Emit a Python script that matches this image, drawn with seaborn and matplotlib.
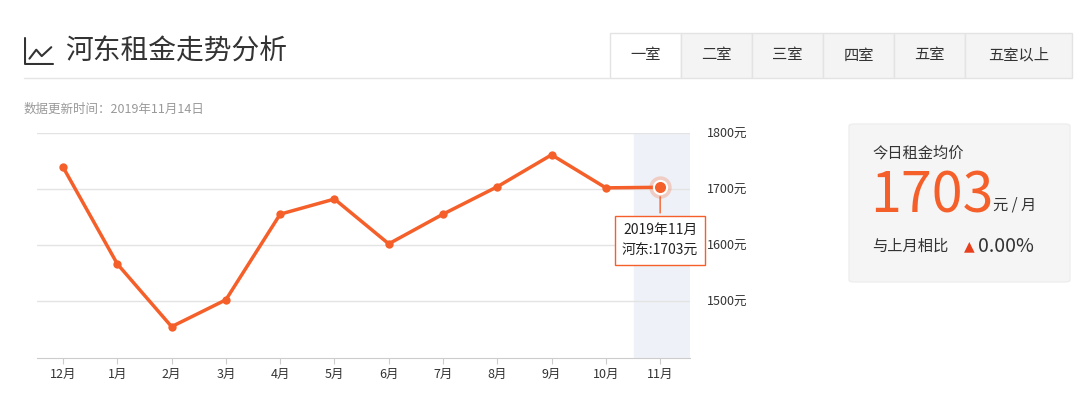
import numpy as np
import pandas as pd
import matplotlib.pyplot as plt
import seaborn as sns
from matplotlib.patches import Rectangle, FancyBboxPatch

months = ['12月', '1月', '2月', '3月', '4月', '5月', '6月', '7月', '8月', '9月', '10月', '11月']
rent = [1739, 1566, 1454, 1502, 1655, 1682, 1602, 1655, 1704, 1761, 1702, 1703]
y_ticks = [1500, 1600, 1700, 1800]
tabs = ['一室', '二室', '三室', '四室', '五室', '五室以上']

sns.set_style('white')
plt.rcParams['font.family'] = ['Noto Sans CJK SC', 'DejaVu Sans']

ORANGE = '#f5602a'
df = pd.DataFrame({'idx': range(len(months)), 'rent': rent})

fig = plt.figure(figsize=(10.8, 4), dpi=100)
ax = fig.add_axes([37 / 1080, 42 / 400, 653 / 1080, 225 / 400])

ax.axvspan(10.52, 11.6, color='#eef2f8', zorder=0)
sns.lineplot(data=df, x='idx', y='rent', ax=ax, color=ORANGE, linewidth=2.5,
             marker='o', markersize=6, markeredgewidth=0, zorder=3)
last = df.iloc[-1]
ax.scatter([last.idx], [last.rent], s=260, color=ORANGE, alpha=0.25, zorder=4, linewidths=0)
ax.scatter([last.idx], [last.rent], s=90, color=ORANGE, zorder=5, edgecolors='white', linewidths=1.5)

ax.set_xlim(-0.48, 11.55)
ax.set_ylim(1398, 1800)
ax.set_xticks(range(len(months)))
ax.set_xticklabels(months, fontsize=9, color='#333333')
ax.yaxis.tick_right()
ax.set_yticks(y_ticks)
ax.set_yticklabels([f'{v}元' for v in y_ticks], fontsize=9, color='#333333')
ax.tick_params(axis='y', length=0, pad=12)
ax.tick_params(axis='x', length=4, color='#cccccc', bottom=True)
ax.grid(axis='y', color='#e3e3e3', linewidth=1)
ax.set_xlabel('')
ax.set_ylabel('')
for s in ['top', 'left', 'right']:
    ax.spines[s].set_visible(False)
ax.spines['bottom'].set_color('#cccccc')

# tooltip
ax.annotate('2019年11月\n河东:1703元', xy=(last.idx, last.rent - 12), xytext=(11.0, 1608),
            ha='center', va='center', fontsize=10, color='#222222', linespacing=1.6,
            bbox=dict(boxstyle='square,pad=0.5', fc='white', ec=ORANGE, lw=1),
            arrowprops=dict(arrowstyle='-', color=ORANGE, lw=1), zorder=6,
            annotation_clip=False)

# title
fig.text(0.060, 0.87, '河东租金走势分析', fontsize=20, color='#333333', va='center')
ic = fig.add_axes([24 / 1080, 335 / 400, 30 / 1080, 28 / 400])
ic.plot([0, 0, 1], [1, 0, 0], color='#333333', lw=1.5)
ic.plot([0.15, 0.4, 0.6, 0.95], [0.2, 0.55, 0.3, 0.65], color='#333333', lw=1.5)
ic.set_xlim(-0.05, 1.05); ic.set_ylim(-0.05, 1.05); ic.axis('off')
fig.add_artist(plt.Line2D([24 / 1080, 610 / 1080], [322 / 400, 322 / 400], color='#e5e5e5', lw=1))
fig.text(24 / 1080, 291 / 400, '数据更新时间：2019年11月14日', fontsize=9, color='#999999', va='center')

# tabs
x0 = 610
widths = [71, 71, 71, 71, 71, 107]
for i, (t, w) in enumerate(zip(tabs, widths)):
    fc = 'white' if i == 0 else '#f4f4f4'
    fig.add_artist(Rectangle((x0 / 1080, 322 / 400), w / 1080, 45 / 400, fc=fc, ec='#e3e3e3', lw=1))
    fig.text((x0 + w / 2) / 1080, 345 / 400, t, fontsize=11, color='#333333', ha='center', va='center')
    x0 += w

# right panel
fig.add_artist(FancyBboxPatch((849 / 1080, 118 / 400), 221 / 1080, 158 / 400,
                              boxstyle='round,pad=0,rounding_size=0.005', fc='#f5f5f5', ec='#eeeeee', lw=1))
fig.text(872 / 1080, 247 / 400, '今日租金均价', fontsize=11, color='#333333', va='center')
fig.text(870 / 1080, 203 / 400, '1703', fontsize=40, color=ORANGE, va='center')
fig.text(993 / 1080, 195 / 400, '元 / 月', fontsize=11, color='#333333', va='center')
fig.text(872 / 1080, 154 / 400, '与上月相比', fontsize=11, color='#333333', va='center')
fig.text(964 / 1080, 154 / 400, '▲', fontsize=10, color='#e8401c', va='center', family=['DejaVu Sans'])
fig.text(978 / 1080, 154 / 400, '0.00%', fontsize=14, color='#333333', va='center')

fig.savefig('out.png', dpi=100)
